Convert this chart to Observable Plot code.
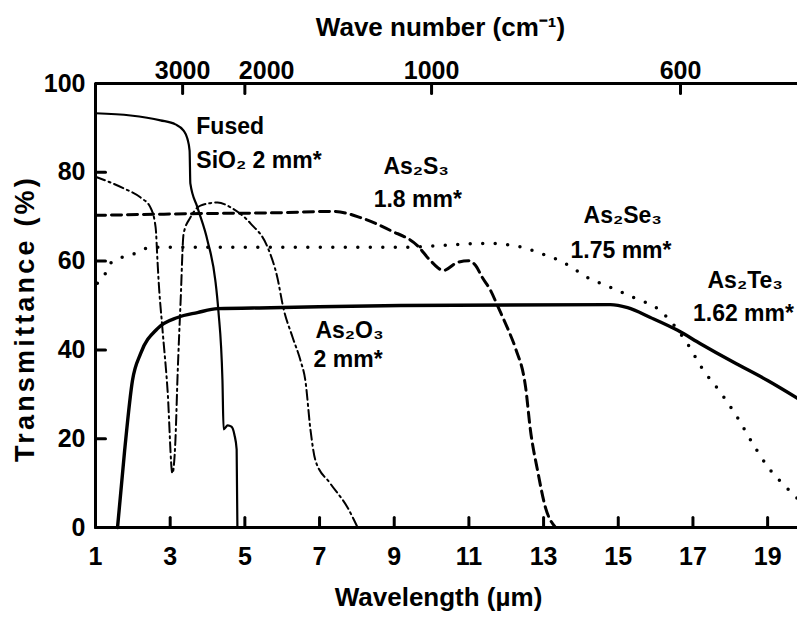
<!DOCTYPE html>
<html><head><meta charset="utf-8">
<script src="https://cdn.jsdelivr.net/npm/d3@7"></script>
<script src="https://cdn.jsdelivr.net/npm/@observablehq/plot@0.6"></script>
<style>body{margin:0;background:#fff}</style>
</head><body><div id="chart"></div>
<script>
// Tick values
const xTicks = [1, 3, 5, 7, 9, 11, 13, 15, 17, 19];
const yTicks = [0, 20, 40, 60, 80, 100];
const waveNumbers = [3000, 2000, 1000, 600];

// Fused SiO2 2 mm (solid)
const sio2X = [1, 1.94, 2.74, 3.14, 3.36, 3.46, 3.52, 3.54, 3.73, 4.0, 4.21, 4.29, 4.40, 4.43, 4.54, 4.64, 4.72, 4.78, 4.80];
const sio2Y = [93.3, 92.8, 91.7, 90.8, 89.4, 87.6, 84.9, 77.5, 72.1, 64.6, 55.6, 48.9, 33.1, 22.1, 23.0, 22.7, 20.9, 17.6, 0];

// As2O3 2 mm (dash-dot)
const as2o3X = [1, 1.75, 2.21, 2.47, 2.61, 2.66, 2.69, 2.79, 2.93, 3.06, 3.14, 3.2, 3.28, 3.36, 3.54, 3.81, 4.27, 4.62, 5.15, 5.61, 5.87, 6.03, 6.28, 6.49, 6.62, 6.76, 6.89, 7.29, 7.75, 8.02];
const as2o3Y = [79, 76.4, 74.3, 72.1, 67.6, 60.1, 55.6, 45.0, 30.9, 12.2, 19.6, 34.7, 51.1, 66.2, 69.8, 72.5, 73.2, 72.1, 68.5, 63.1, 56.3, 49.5, 42.8, 37.6, 33.1, 21.8, 15.1, 9.9, 4.5, 0];

// As2S3 1.8 mm (dashed)
const as2s3X = [1, 3.81, 5.95, 7.37, 8.1, 8.9, 9.62, 9.97, 10.32, 10.69, 10.99, 11.18, 11.36, 11.58, 11.79, 12.06, 12.25, 12.52, 12.65, 12.84, 13.05, 13.32];
const as2s3Y = [70.3, 70.7, 70.9, 71.2, 69.8, 66.9, 63.5, 60.1, 57.9, 59.7, 60.1, 59.0, 56.3, 53.4, 49.5, 44.4, 40.3, 31.5, 21.8, 12.8, 4.5, 0];

// As2Se3 1.75 mm (dotted)
const as2se3X = [1.05, 1.21, 1.4, 2.12, 2.47, 6.49, 9.17, 11.5, 12.19, 12.57, 12.86, 13.24, 13.53, 14.18, 14.87, 15.46, 16.05, 16.85, 17.25, 17.74, 18.19, 18.6, 19.02, 19.53, 19.8];
const as2se3Y = [55, 56.3, 59.5, 61.9, 63.1, 63.1, 63.1, 64.0, 63.5, 62.8, 61.9, 60.8, 59.7, 56.3, 53.8, 51.6, 49.3, 41.4, 35.8, 30.4, 24.8, 18.9, 13.5, 8.8, 6.5];

// As2Te3 1.62 mm (solid)
const as2te3X = [1.59, 1.78, 1.99, 2.21, 2.66, 3.20, 3.73, 4.27, 5.69, 9.17, 14.79, 15.25, 15.86, 16.59, 17.2, 18.09, 19.0, 19.8];
const as2te3Y = [0, 17.3, 33.1, 39.2, 44.8, 47.3, 48.4, 49.3, 49.5, 50, 50.2, 49.5, 47.3, 44.4, 41.4, 37.2, 33.1, 29.1];

// Curve annotations (text, wavelength, transmittance of baseline)
const labelText = ["Fused", "SiO\u2082 2 mm*", "As\u2082S\u2083", "1.8 mm*", "As\u2082Se\u2083", "1.75 mm*", "As\u2082Te\u2083", "1.62 mm*", "As\u2082O\u2083", "2 mm*"];
const labelX = [3.70, 3.70, 8.71, 8.45, 14.07, 13.72, 17.39, 17.0, 6.89, 6.84];
const labelY = [88.7, 80.9, 79.7, 72.1, 68.5, 60.6, 54.0, 46.6, 42.6, 36.1];

const xTitle = "Wavelength (\u00b5m)";
const yTitle = "Transmittance (%)";
const topTitle = "Wave number (cm\u207b\u00b9)";

const rows = (xs, ys) => xs.map((x, i) => ({x, y: ys[i]}));
const labels = labelText.map((t, i) => ({t, x: labelX[i], y: labelY[i]}));
const toWavelength = w => 10000 / w;

const W = 797, H = 619, mL = 95, mR = 0, mT = 83, mB = 92, tickPx = 10;
const xDomain = [1, 19.8], yDomain = [0, 100];
const frameW = W - mL - mR, frameH = H - mT - mB;
// tick length converted from pixels to data units
const tickY = tickPx / frameH * (yDomain[1] - yDomain[0]);
const tickX = tickPx / frameW * (xDomain[1] - xDomain[0]);

const bottomTicks = xTicks.map(x => ({x, a: yDomain[0], b: yDomain[0] + tickY}));
const topTicks = waveNumbers.map(w => ({x: toWavelength(w), a: yDomain[1], b: yDomain[1] - tickY}));
const leftTicks = yTicks.map(y => ({y, a: xDomain[0], b: xDomain[0] + tickX}));

const chart = Plot.plot({
  width: W,
  height: H,
  marginLeft: mL,
  marginRight: mR,
  marginTop: mT,
  marginBottom: mB,
  x: {domain: xDomain},
  y: {domain: yDomain},
  style: {fontFamily: "'Liberation Sans', Arial, sans-serif", fontSize: "25px", fontWeight: "bold", color: "black", background: "white", overflow: "visible"},
  marks: [
    // tick labels
    Plot.axisX({anchor: "bottom", ticks: xTicks, tickSize: 0, tickPadding: 20, label: null, tickFormat: d => String(d)}),
    Plot.axisY({anchor: "left", ticks: yTicks, tickSize: 0, tickPadding: 10, label: null, tickFormat: d => String(d)}),
    Plot.text(waveNumbers.filter(w => w !== 2000), {x: toWavelength, text: w => String(w), frameAnchor: "top", dy: -5, lineAnchor: "bottom", textAnchor: "middle"}),
    Plot.text(waveNumbers.filter(w => w === 2000), {x: toWavelength, text: w => String(w), frameAnchor: "top", dy: -5, dx: -6, lineAnchor: "bottom", textAnchor: "start"}),
    // frame
    Plot.ruleY([yTicks[0]], {strokeWidth: 3}),
    Plot.ruleY([yTicks[yTicks.length - 1]], {strokeWidth: 3}),
    Plot.ruleX([xTicks[0]], {strokeWidth: 3}),
    // curves
    Plot.line(rows(sio2X, sio2Y), {x: "x", y: "y", stroke: "black", strokeWidth: 2.2, curve: "monotone-x"}),
    Plot.line(rows(as2te3X, as2te3Y), {x: "x", y: "y", stroke: "black", strokeWidth: 3.4, curve: "monotone-x"}),
    Plot.line(rows(as2o3X, as2o3Y), {x: "x", y: "y", stroke: "black", strokeWidth: 2, strokeDasharray: "10 4 2 4", curve: "monotone-x"}),
    Plot.line(rows(as2s3X, as2s3Y), {x: "x", y: "y", stroke: "black", strokeWidth: 3, strokeDasharray: "10 6", curve: "monotone-x"}),
    Plot.line(rows(as2se3X, as2se3Y), {x: "x", y: "y", stroke: "black", strokeWidth: 3.5, strokeDasharray: "0 12.5", strokeLinecap: "round", curve: "monotone-x"}),
    // inward tick marks (drawn as short line segments)
    Plot.line(bottomTicks.flatMap((d, i) => [{k: i, x: d.x, y: d.a}, {k: i, x: d.x, y: d.b}]), {x: "x", y: "y", z: "k", stroke: "black", strokeWidth: 3}),
    Plot.line(topTicks.flatMap((d, i) => [{k: i, x: d.x, y: d.a}, {k: i, x: d.x, y: d.b}]), {x: "x", y: "y", z: "k", stroke: "black", strokeWidth: 3}),
    Plot.line(leftTicks.flatMap((d, i) => [{k: i, x: d.a, y: d.y}, {k: i, x: d.b, y: d.y}]), {x: "x", y: "y", z: "k", stroke: "black", strokeWidth: 3}),
    // annotations and titles
    Plot.text(labels, {x: "x", y: "y", text: "t", textAnchor: "start", lineAnchor: "bottom", fontSize: 23}),
    Plot.text([xTitle], {frameAnchor: "bottom", dx: -8, dy: 78, lineAnchor: "bottom", fontSize: 26}),
    Plot.text([topTitle], {frameAnchor: "top", dx: -6, dy: -48, lineAnchor: "bottom", fontSize: 26}),
    Plot.text([yTitle], {frameAnchor: "left", textAnchor: "middle", dx: -70, dy: 13, rotate: -90, fontSize: 27})
  ]
});
document.getElementById("chart").appendChild(chart);
d3.select(chart).selectAll("text").filter(function() { return this.textContent === yTitle; }).style("letter-spacing", "3.2px");
</script>
</body></html>
